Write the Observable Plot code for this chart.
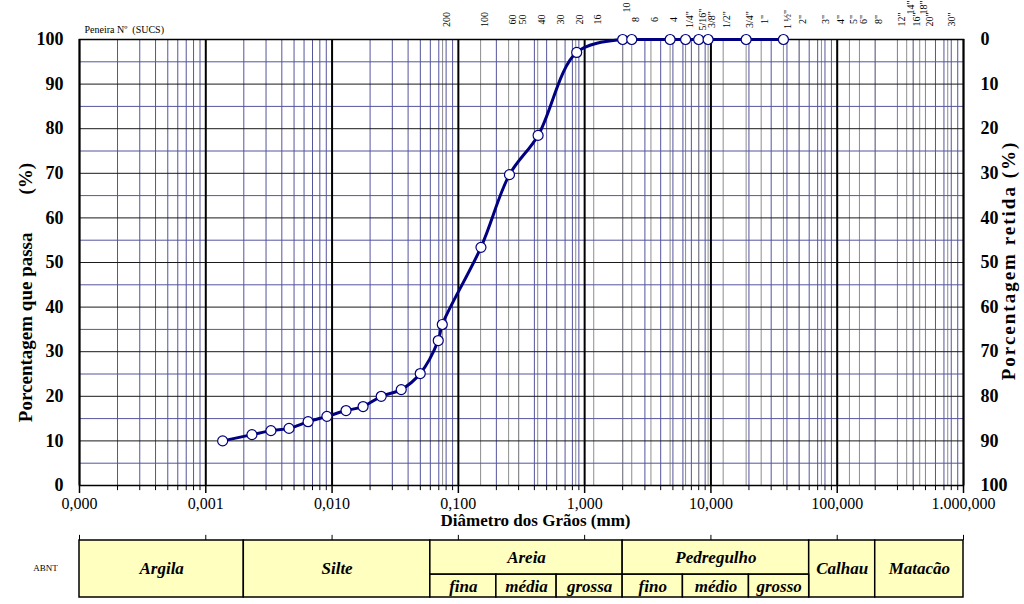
<!DOCTYPE html>
<html>
<head>
<meta charset="utf-8">
<script src="https://cdn.jsdelivr.net/npm/d3@7"></script>
<script src="https://cdn.jsdelivr.net/npm/@observablehq/plot@0.6"></script>
<style>
  body { margin: 0; background: #fff; }
  #chart svg { display: block; }
</style>
</head>
<body>
<div id="chart"></div>
<script>
// ---- Data ----
const diametros = [0.00136, 0.00232, 0.00328, 0.00456, 0.00646, 0.0091, 0.0129, 0.0176, 0.0245, 0.0353, 0.0499, 0.0693, 0.0746, 0.151, 0.254, 0.428, 0.865, 2.0, 2.36, 4.75, 6.3, 8.0, 9.5, 19.0, 37.5];
const passantes = [10.0, 11.4, 12.3, 12.8, 14.3, 15.5, 16.8, 17.7, 20.0, 21.5, 25.1, 32.5, 36.1, 53.4, 69.7, 78.5, 97.1, 100, 100, 100, 100, 100, 100, 100, 100];

const peneiraRotulos = ["200", "100", "60", "50", "40", "30", "20", "16", "10", "8", "6", "4", "1/4\"", "5/16\"", "3/8\"", "1/2\"", "3/4\"", "1\"", "1 ½\"", "2\"", "3\"", "4\"", "5\"", "6\"", "8\"", "12\"", "14\"", "16\"", "18\"", "20\"", "30\""];
const peneiraAberturas = [0.075, 0.15, 0.25, 0.3, 0.425, 0.6, 0.85, 1.18, 2.0, 2.36, 3.35, 4.75, 6.3, 8.0, 9.5, 12.5, 19.0, 25.0, 37.5, 50, 75, 100, 125, 150, 200, 300, 355, 400, 450, 500, 750];
const peneiraLinhaSuperior = ["10", "14\"", "18\""];

const xTicks = [0.0001, 0.001, 0.01, 0.1, 1, 10, 100, 1000];
const xRotulos = ["0,000", "0,001", "0,010", "0,100", "1,000", "10,000", "100,000", "1.000,000"];
const yTicks = [0, 10, 20, 30, 40, 50, 60, 70, 80, 90, 100];

const abntClasses = ["Argila", "Silte", "Areia", "Pedregulho", "Calhau", "Matacão"];
const abntLimites = [0.0001, 0.002, 0.06, 2, 60, 200, 1000];
const abntSubdivididas = ["Areia", "Pedregulho"];
const abntSubclasses = ["fina", "média", "grossa", "fino", "médio", "grosso"];
const abntSubLimites = [0.06, 0.2, 0.6, 2, 6, 20, 60];

// ---- Derived tables ----
const pontos = diametros.map((d, i) => ({d, p: passantes[i]}));
const peneiras = peneiraAberturas.map((a, i) => ({a, rot: peneiraRotulos[i], alto: peneiraLinhaSuperior.includes(peneiraRotulos[i])}));
const menores = [];
for (let k = 0; k < xTicks.length - 1; k++) for (let m = 2; m <= 9; m++) menores.push(m * xTicks[k]);
const ySecund = d3.range(5, 100, 10);
const ySecPrinc = yTicks.filter(v => v > 0 && v < 100);

const classes = abntClasses.map((n, i) => ({n, x1: abntLimites[i], x2: abntLimites[i + 1], sub: abntSubdivididas.includes(n)}));
const subclasses = abntSubclasses.map((n, i) => ({n, x1: abntSubLimites[i], x2: abntSubLimites[i + 1]}));
const gm = d => Math.sqrt(d.x1 * d.x2);

const fonte = "'Liberation Serif', 'Times New Roman', serif";
const azul = "#000080";

const W = 1024, ML = 79, MR = 61;

const grafico = Plot.plot({
  width: W, height: 535,
  marginLeft: ML, marginRight: MR, marginTop: 39, marginBottom: 50,
  style: {fontFamily: fonte, background: "white", color: "black", overflow: "visible"},
  x: {type: "log", domain: [0.0001, 1000]},
  y: {domain: [0, 100]},
  marks: [
    Plot.ruleX(menores, {stroke: "#55559e", strokeWidth: 1}),
    Plot.ruleX(peneiraAberturas, {stroke: "#8e8e8e", strokeWidth: 1}),
    Plot.ruleY(ySecund, {stroke: "#55559e", strokeWidth: 1}),
    Plot.ruleY(ySecPrinc, {stroke: "#1a1a1a", strokeWidth: 1}),
    Plot.ruleX(xTicks, {stroke: "black", strokeWidth: 2}),
    Plot.frame({stroke: "black", strokeWidth: 1.5}),
    Plot.ruleX(menores, {y1: 0, y2: -1.15, stroke: "black", strokeWidth: 1}),
    Plot.ruleX(xTicks, {y1: 0, y2: -1.8, stroke: "black", strokeWidth: 1.5}),
    Plot.axisX({ticks: xTicks, tickSize: 0, tickPadding: 12, fontSize: 16,
      tickFormat: d => xRotulos[xTicks.indexOf(d)], label: null}),
    Plot.axisY({ticks: yTicks, tickSize: 0, tickPadding: 16, fontSize: 18, fontWeight: "bold", label: null}),
    Plot.axisY({anchor: "right", ticks: yTicks, tickSize: 0, tickPadding: 17, fontSize: 18, fontWeight: "bold",
      tickFormat: d => String(100 - d), textAnchor: "start", label: null}),
    Plot.line(pontos, {x: "d", y: "p", curve: "catmull-rom", stroke: azul, strokeWidth: 3}),
    Plot.dot(pontos, {x: "d", y: "p", r: 5, fill: "white", stroke: azul, strokeWidth: 1.2}),
    Plot.text(peneiras.filter(d => !d.alto), {x: "a", text: "rot", frameAnchor: "top", dy: -20, rotate: -90, fontSize: 10, textAnchor: "middle"}),
    Plot.text(peneiras.filter(d => d.alto), {x: "a", text: "rot", frameAnchor: "top", dy: -32, rotate: -90, fontSize: 10, textAnchor: "middle"}),
    Plot.text(["Peneira Nº\u00a0\u00a0(SUCS)"], {frameAnchor: "top-left", dx: 5, dy: -14, textAnchor: "start", fontSize: 10}),
    Plot.text(["Diâmetro dos Grãos (mm)"], {frameAnchor: "bottom", dx: 14, dy: 40, fontSize: 17, fontWeight: "bold", textAnchor: "middle"}),
    Plot.text(["Porcentagem que passa\u00a0\u00a0\u00a0\u00a0\u00a0\u00a0\u00a0\u00a0(%)"], {frameAnchor: "left", dx: -54, dy: 30, rotate: -90, fontSize: 19, fontWeight: "bold", textAnchor: "middle"}),
    Plot.text(["Porcentagem retida (%)"], {frameAnchor: "right", dx: 45, dy: -2, rotate: -90, fontSize: 19, fontWeight: "bold", textAnchor: "middle"})
  ]
});

// slightly wider tracking on the right-hand title, as in the reference
d3.select(grafico).selectAll("text").filter(function() { return this.textContent.includes("retida"); })
  .style("letter-spacing", "2px");

const tabela = Plot.plot({
  width: W, height: 69,
  marginLeft: ML, marginRight: MR, marginTop: 5, marginBottom: 7,
  style: {fontFamily: fonte, background: "white", color: "black", overflow: "visible"},
  x: {type: "log", domain: [0.0001, 1000], axis: null},
  y: {domain: [0, 1], axis: null},
  marks: [
    Plot.ruleX(xTicks, {y1: 1, y2: 1.09, stroke: "black", strokeWidth: 1}),
    Plot.rect(classes, {x1: "x1", x2: "x2", y1: d => d.sub ? 0.4 : 0, y2: 1, fill: "#ffffc0", stroke: "black", strokeWidth: 1.5}),
    Plot.rect(subclasses, {x1: "x1", x2: "x2", y1: 0, y2: 0.4, fill: "#ffffc0", stroke: "black", strokeWidth: 1.5}),
    Plot.text(classes, {x: gm, y: d => d.sub ? 0.7 : 0.5, text: "n", fontSize: 17, fontWeight: "bold", fontStyle: "italic"}),
    Plot.text(subclasses, {x: gm, y: 0.2, text: "n", fontSize: 17, fontWeight: "bold", fontStyle: "italic"}),
    Plot.text(["ABNT"], {frameAnchor: "left", dx: -34, dy: -1, fontSize: 9, textAnchor: "middle"})
  ]
});

const el = document.getElementById("chart");
el.appendChild(grafico);
el.appendChild(tabela);
</script>
</body>
</html>
